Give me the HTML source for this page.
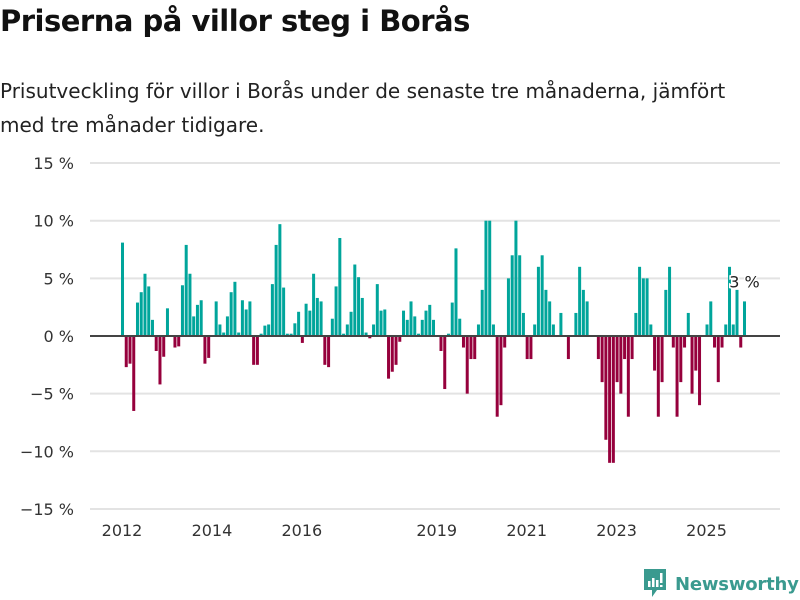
<!DOCTYPE html>
<html><head><meta charset="utf-8"><style>
body{margin:0;background:#fff;font-family:"Liberation Sans","DejaVu Sans",sans-serif;}
#wrap{position:relative;width:800px;height:600px;overflow:hidden;}
h1{position:absolute;left:0;top:4px;margin:0;font-size:29px;font-weight:bold;color:#111;font-family:"DejaVu Sans","Liberation Sans",sans-serif;letter-spacing:-0.5px}
.sub{position:absolute;left:0;top:74px;margin:0;font-size:20px;line-height:34px;color:#222;font-family:"DejaVu Sans","Liberation Sans",sans-serif;width:760px}
svg{position:absolute;left:0;top:0}
.logo{position:absolute;left:643px;top:568px;display:flex;align-items:center}
.logo span{font-size:18px;font-weight:bold;color:#3a9a8f;margin-left:8px;font-family:"DejaVu Sans","Liberation Sans",sans-serif;letter-spacing:-0.2px}
</style></head><body>
<div id="wrap">
<h1>Priserna på villor steg i Borås</h1>
<p class="sub">Prisutveckling för villor i Borås under de senaste tre månaderna, jämfört med tre månader tidigare.</p>
<svg id="chart" width="800" height="600"></svg>
<div class="logo">
<svg width="24" height="32" viewBox="0 0 24 32" style="position:static"><path d="M1 1h22v21H14l-5 7v-7H1z" fill="#3a9a8f"/><rect x="5" y="13" width="2.5" height="6" fill="#fff"/><rect x="9" y="10" width="2.5" height="9" fill="#fff"/><rect x="13" y="12" width="2.5" height="7" fill="#fff"/><rect x="17" y="5" width="2.5" height="10" fill="#fff"/><rect x="17" y="17" width="2.5" height="2" fill="#fff"/></svg>
<span>Newsworthy</span></div>
</div>
<script>
const values = [8.1,-2.7,-2.4,-6.5,2.9,3.8,5.4,4.3,1.4,-1.3,-4.2,-1.8,2.4,null,-1.0,-0.9,4.4,7.9,5.4,1.7,2.7,3.1,-2.4,-1.9,null,3.0,1.0,0.3,1.7,3.8,4.7,0.3,3.1,2.3,3.0,-2.5,-2.5,0.2,0.9,1.0,4.5,7.9,9.7,
4.2,0.2,0.2,1.1,2.1,-0.6,2.8,2.2,5.4,3.3,3.0,-2.5,-2.7,1.5,4.3,8.5,0.2,1.0,2.1,6.2,5.1,3.3,0.3,-0.2,1.0,4.5,2.2,2.3,-3.7,-3.1,-2.5,-0.5,2.2,1.4,3.0,1.7,0.2,1.4,2.2,2.7,1.4,
null,-1.3,-4.6,0.2,2.9,7.6,1.5,-1.0,-5.0,-2.0,-2.0,1.0,4.0,10,10,1.0,-7.0,-6.0,-1.0,5.0,7.0,10,7.0,2.0,-2.0,-2.0,1.0,6.0,7.0,4.0,3.0,1.0,null,2.0,null,-2.0,null,2.0,6.0,4.0,3.0,null,null,
-2.0,-4.0,-9.0,-11,-11,-4.0,-5.0,-2.0,-7.0,-2.0,2.0,6.0,5.0,5.0,1.0,-3.0,-7.0,-4.0,4.0,6.0,-1.0,-7.0,-4.0,-1.0,2.0,-5.0,-3.0,-6.0,null,1.0,3.0,-1.0,-4.0,-1.0,1.0,6.0,1.0,4.0,-1.0,3.0];
const yTicks = [15,10,5,0,-5,-10,-15];
const yTickLabels = ["15 %","10 %","5 %","0 %","−5 %","−10 %","−15 %"];
const xTickYears = [2012,2014,2016,2019,2021,2023,2025];
const lastLabel = "3 %";

const svg = document.getElementById('chart');
const NS = 'http://www.w3.org/2000/svg';
const x0 = 121, pitch = 3.747, barW = 3;
const y = v => 336 - v * 11.53;
const x = i => x0 + i * pitch;
function mk(tag, attrs){const e=document.createElementNS(NS,tag);for(const k in attrs)e.setAttribute(k,attrs[k]);svg.appendChild(e);return e;}

yTicks.forEach((t,i)=>{
  const g = mk('line',{x1:90,x2:780,y1:y(t),y2:y(t),stroke:'#e3e3e3','stroke-width':2});
  
  
  const l = mk('text',{x:74,y:y(t)+6,'text-anchor':'end','font-size':16,fill:'#333','font-family':'"DejaVu Sans","Liberation Sans",sans-serif'});
  l.textContent = yTickLabels[i];
  
  
});
values.forEach((v,i)=>{
  if(v===null) return;
  const top = v>=0 ? y(v) : y(0);
  const h = Math.abs(y(v)-y(0));
  const r = mk('rect',{x:x(i),y:top,width:barW,height:h,fill:v>=0?'#00a59b':'#96003c'});
  
  
});
const z = mk('line',{x1:90,x2:780,y1:y(0),y2:y(0),stroke:'#444','stroke-width':2});


xTickYears.forEach(yr=>{
  const i = (yr-2012)*12;
  const t = mk('text',{x:x(i)+1,y:536,'text-anchor':'middle','font-size':16,fill:'#333','font-family':'"DejaVu Sans","Liberation Sans",sans-serif'});
  t.textContent = yr;
  
  
});
const li = values.length-1;
const lab = mk('text',{x:x(li)+1.5,y:y(values[li])-14,'text-anchor':'middle','font-size':16,fill:'#222',stroke:'#fff','stroke-width':3,'paint-order':'stroke','font-family':'"DejaVu Sans","Liberation Sans",sans-serif'});
lab.textContent = lastLabel;


</script>
</body></html>
